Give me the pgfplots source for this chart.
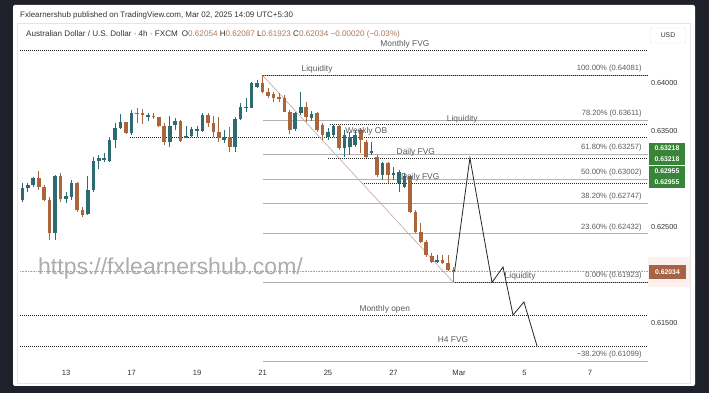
\documentclass[border=0pt]{standalone}
\usepackage{pgfplots}
\pgfplotsset{compat=1.18}
\usepackage{pgfplotstable}
\usepackage{fontspec}
\setmainfont{Liberation Sans}
\definecolor{bgdark}{RGB}{30,33,42}
\definecolor{bullc}{RGB}{46,106,114}
\definecolor{bearc}{RGB}{172,100,58}
\definecolor{fibc}{RGB}{178,178,178}
\definecolor{lblc}{RGB}{88,92,96}
\definecolor{greenbox}{RGB}{56,132,56}
\definecolor{brownbox}{RGB}{166,100,70}
\definecolor{valc}{RGB}{176,120,90}
\definecolor{trendc}{RGB}{195,168,158}
\definecolor{hdr}{RGB}{50,50,50}
\tikzset{
  fib/.style={fibc, line width=0.5pt},
  dotl/.style={black!85, line width=0.9pt, dash pattern=on 0.9pt off 1.1pt},
  lbl/.style={anchor=base, inner sep=0pt, text=lblc, yshift=3.5pt, font=\fontsize{8.4}{9}\selectfont},
  fibl/.style={anchor=base east, inner sep=0pt, text=lblc, yshift=4.5pt, font=\fontsize{7.6}{9}\selectfont},
}

\pgfplotstableread{
x o h l c
-8 0.62781 0.62955 0.62764 0.62903
-7 0.62903 0.62955 0.62868 0.62938
-6 0.62938 0.63024 0.62920 0.63007
-2 0.62434 0.63042 0.62365 0.63031
0 0.62789 0.62868 0.62747 0.62823
1 0.62816 0.62990 0.62781 0.62961
4 0.62635 0.63031 0.62628 0.62885
5 0.62885 0.63232 0.62865 0.63188
6 0.63188 0.63250 0.63104 0.63216
7 0.63200 0.63274 0.63180 0.63222
8 0.63191 0.63441 0.63180 0.63406
9 0.63406 0.63580 0.63320 0.63528
10 0.63534 0.63677 0.63518 0.63591
12 0.63476 0.63719 0.63458 0.63684
15 0.63649 0.63691 0.63607 0.63667
19 0.63389 0.63656 0.63336 0.63552
20 0.63563 0.63632 0.63510 0.63607
22 0.63430 0.63552 0.63424 0.63448
23 0.63448 0.63545 0.63441 0.63518
24 0.63500 0.63552 0.63441 0.63518
25 0.63503 0.63684 0.63493 0.63667
29 0.63406 0.63510 0.63372 0.63441
31 0.63336 0.63649 0.63284 0.63622
32 0.63622 0.63795 0.63615 0.63747
33 0.63740 0.63841 0.63701 0.63750
34 0.63743 0.64014 0.63736 0.63997
35 0.63961 0.64031 0.63945 0.63997
42 0.63520 0.63695 0.63500 0.63684
43 0.63684 0.63909 0.63667 0.63753
45 0.63632 0.63708 0.63604 0.63674
48 0.63441 0.63528 0.63406 0.63493
49 0.63458 0.63563 0.63441 0.63552
51 0.63320 0.63510 0.63232 0.63458
52 0.63330 0.63493 0.63250 0.63441
53 0.63354 0.63510 0.63336 0.63458
56 0.63271 0.63389 0.63250 0.63292
58 0.63042 0.63180 0.62990 0.63164
60 0.63042 0.63128 0.62990 0.63066
61 0.62955 0.63094 0.62868 0.63076
62 0.62920 0.63059 0.62903 0.63031
68 0.62139 0.62208 0.62122 0.62156
}\bulldata

\pgfplotstableread{
x o h l c
-5 0.63007 0.63086 0.62885 0.62920
-4 0.62920 0.62938 0.62774 0.62781
-3 0.62781 0.62816 0.62365 0.62434
-1 0.63031 0.63059 0.62764 0.62789
2 0.62961 0.62965 0.62659 0.62677
3 0.62677 0.62711 0.62607 0.62625
11 0.63591 0.63597 0.63469 0.63476
13 0.63691 0.63736 0.63580 0.63677
14 0.63684 0.63726 0.63573 0.63667
16 0.63656 0.63691 0.63622 0.63643
17 0.63643 0.63649 0.63545 0.63552
18 0.63552 0.63580 0.63354 0.63389
21 0.63607 0.63615 0.63389 0.63399
26 0.63667 0.63691 0.63545 0.63580
27 0.63580 0.63656 0.63441 0.63493
28 0.63493 0.63649 0.63389 0.63424
30 0.63441 0.63545 0.63284 0.63330
36 0.63997 0.64081 0.63893 0.63909
37 0.63909 0.63951 0.63841 0.63868
38 0.63882 0.63909 0.63805 0.63847
39 0.63857 0.63893 0.63799 0.63833
40 0.63841 0.63875 0.63695 0.63701
41 0.63701 0.63719 0.63466 0.63510
44 0.63753 0.63805 0.63597 0.63649
46 0.63684 0.63701 0.63493 0.63510
47 0.63563 0.63580 0.63406 0.63458
50 0.63552 0.63563 0.63302 0.63320
54 0.63510 0.63528 0.63268 0.63406
55 0.63389 0.63406 0.63216 0.63232
57 0.63232 0.63250 0.63024 0.63042
59 0.63164 0.63180 0.62955 0.63042
63 0.63031 0.63042 0.62643 0.62659
64 0.62659 0.62677 0.62434 0.62451
65 0.62451 0.62539 0.62330 0.62347
66 0.62347 0.62365 0.62191 0.62208
67 0.62198 0.62226 0.62122 0.62139
69 0.62156 0.62208 0.62115 0.62128
70 0.62122 0.62208 0.62045 0.62052
71 0.62054 0.62087 0.61923 0.62034
}\beardata

\begin{document}
\begin{tikzpicture}
\useasboundingbox (0,0) rectangle (709pt,393pt);
\fill[bgdark] (0,0) rectangle (709pt,393pt);
\fill[white, rounded corners=2pt] (13pt,7pt) rectangle (695pt,388pt);
\draw[black!10, line width=0.5pt] (17pt,10pt) rectangle (690pt,370pt);
% header
\node[anchor=base west, inner sep=0pt, text=hdr, font=\fontsize{7.95}{9}\selectfont] at (20pt,375pt)
 {Fxlearnershub published on TradingView.com, Mar 02, 2025 14:09 UTC+5:30};
\node[anchor=base west, inner sep=0pt, text=hdr, font=\fontsize{8.1}{9}\selectfont] at (26pt,356pt)
 {Australian Dollar / U.S. Dollar · 4h · FXCM\enspace O{\color{valc}0.62054} H{\color{valc}0.62087} L{\color{valc}0.61923} C{\color{valc}0.62034} {\color{valc}−0.00020 (−0.03\%)}};
% watermark
\node[anchor=base west, inner sep=0pt, text=black!32, font=\fontsize{23}{25}\selectfont] at (38pt,118pt) {https://fxlearnershub.com/};

\begin{axis}[
  at={(20pt,27pt)}, anchor=south west, scale only axis,
  width=628pt, height=342pt,
  xmin=-8.43, xmax=106.63, ymin=0.61052, ymax=0.64615,
  clip=false,
  axis line style={draw=none}, tick style={draw=none},
  xtick={0,12,24,36,48,60,72,84,96},
  xticklabels={13,17,19,21,25,27,Mar,5,7},
  xticklabel style={anchor=center, yshift=-6.5pt, font=\fontsize{7.6}{8}\selectfont, text=hdr},
  ytick={0.615,0.625,0.635,0.640},
  yticklabels={0.61500,0.62500,0.63500,0.64000},
  yticklabel pos=right,
  yticklabel style={anchor=west, xshift=-0.5pt, font=\fontsize{7.3}{8}\selectfont, text=hdr},
]
% current price line
\addplot[black!35, line width=0.5pt, dash pattern=on 0.8pt off 0.8pt, forget plot] coordinates {(-8.43,0.62034) (106.6,0.62034)};
% fib levels
\addplot[fib, forget plot] coordinates {(36,0.64081) (106.6,0.64081)};
\addplot[fib, forget plot] coordinates {(36,0.63611) (106.6,0.63611)};
\addplot[fib, forget plot] coordinates {(36,0.63257) (106.6,0.63257)};
\addplot[fib, forget plot] coordinates {(36,0.63002) (106.6,0.63002)};
\addplot[fib, forget plot] coordinates {(36,0.62747) (106.6,0.62747)};
\addplot[fib, forget plot] coordinates {(36,0.62432) (106.6,0.62432)};
\addplot[fib, forget plot] coordinates {(36,0.61923) (106.6,0.61923)};
\addplot[fib, forget plot] coordinates {(36,0.61099) (106.6,0.61099)};
% dotted levels
\addplot[dotl, forget plot] coordinates {(-8.43,0.64339) (106.6,0.64339)};
\addplot[dotl, forget plot] coordinates {(36,0.64081) (106.6,0.64081)};
\addplot[dotl, forget plot] coordinates {(48.4,0.63565) (106.6,0.63565)};
\addplot[dotl, forget plot] coordinates {(11.7,0.63438) (106.6,0.63438)};
\addplot[dotl, forget plot] coordinates {(48,0.63218) (106.6,0.63218)};
\addplot[dotl, forget plot] coordinates {(54.2,0.62955) (106.6,0.62955)};
\addplot[dotl, forget plot] coordinates {(71.3,0.61923) (106.6,0.61923)};
\addplot[dotl, forget plot] coordinates {(-8.43,0.61583) (106.6,0.61583)};
\addplot[dotl, forget plot] coordinates {(-8.43,0.61260) (106.6,0.61260)};
% trend line
\addplot[trendc, line width=0.6pt, forget plot] coordinates {(36,0.64081) (71,0.61923)};
% candles
\addplot[draw=none, mark=none, forget plot, error bars/.cd, y dir=plus, y explicit, error mark=none,
  error bar style={draw=bullc, line width=0.7pt}] table[x=x, y=l, y error expr=\thisrow{h}-\thisrow{l}] {\bulldata};
\addplot[draw=none, mark=none, forget plot, error bars/.cd, y dir=plus, y explicit, error mark=none,
  error bar style={draw=bullc, line width=3.6pt}] table[x=x, y=o, y error expr={max(\thisrow{c}-\thisrow{o},0.00003)}] {\bulldata};
\addplot[draw=none, mark=none, forget plot, error bars/.cd, y dir=plus, y explicit, error mark=none,
  error bar style={draw=bearc, line width=0.7pt}] table[x=x, y=l, y error expr=\thisrow{h}-\thisrow{l}] {\beardata};
\addplot[draw=none, mark=none, forget plot, error bars/.cd, y dir=plus, y explicit, error mark=none,
  error bar style={draw=bearc, line width=3.6pt}] table[x=x, y=c, y error expr={max(\thisrow{o}-\thisrow{c},0.00003)}] {\beardata};
% projection
\addplot[black!85, line width=0.8pt, forget plot] coordinates {(71.2,0.62040) (74.0,0.63219) (78.05,0.61923) (80.07,0.62083) (81.9,0.61583) (83.9,0.61719) (86.3,0.61260)};
% labels
\node[lbl] at (axis cs:62.1,0.64339) {Monthly FVG};
\node[lbl] at (axis cs:46.0,0.64081) {Liquidity};
\node[lbl] at (axis cs:72.6,0.63565) {Liquidity};
\node[lbl] at (axis cs:55.0,0.63438) {Weekly OB};
\node[lbl] at (axis cs:64.1,0.63218) {Daily FVG};
\node[lbl] at (axis cs:64.9,0.62955) {Daily FVG};
\node[lbl] at (axis cs:83.2,0.61923) {Liquidity};
\node[lbl] at (axis cs:58.4,0.61583) {Monthly open};
\node[lbl] at (axis cs:70.9,0.61260) {H4 FVG};
\node[fibl] at (axis cs:105.5,0.64081) {100.00\% (0.64081)};
\node[fibl] at (axis cs:105.5,0.63611) {78.20\% (0.63611)};
\node[fibl] at (axis cs:105.5,0.63257) {61.80\% (0.63257)};
\node[fibl] at (axis cs:105.5,0.63002) {50.00\% (0.63002)};
\node[fibl] at (axis cs:105.5,0.62747) {38.20\% (0.62747)};
\node[fibl] at (axis cs:105.5,0.62432) {23.60\% (0.62432)};
\node[fibl] at (axis cs:105.5,0.61923) {0.00\% (0.61923)};
\node[fibl] at (axis cs:105.5,0.61099) {−38.20\% (0.61099)};
\end{axis}
% price scale boxes
\draw[black!12, fill=white, rounded corners=1.5pt] (650pt,350pt) rectangle (686pt,365pt);
\node[text=hdr, font=\fontsize{6.8}{7}\selectfont] at (668pt,357.5pt) {USD};
\fill[greenbox] (649pt,228pt) rectangle (685pt,250pt);
\fill[greenbox] (649pt,205pt) rectangle (685pt,227pt);
\node[text=white, font=\bfseries\fontsize{6.8}{7}\selectfont] at (667pt,245pt) {0.63218};
\node[text=white, font=\bfseries\fontsize{6.8}{7}\selectfont] at (667pt,234pt) {0.63218};
\node[text=white, font=\bfseries\fontsize{6.8}{7}\selectfont] at (667pt,222pt) {0.62955};
\node[text=white, font=\bfseries\fontsize{6.8}{7}\selectfont] at (667pt,211pt) {0.62955};
\fill[red!6] (648pt,106pt) rectangle (690pt,136pt);
\fill[brownbox] (649pt,114pt) rectangle (686pt,128pt);
\node[text=white, font=\bfseries\fontsize{6.8}{7}\selectfont] at (667.5pt,121pt) {0.62034};
\end{tikzpicture}
\end{document}
